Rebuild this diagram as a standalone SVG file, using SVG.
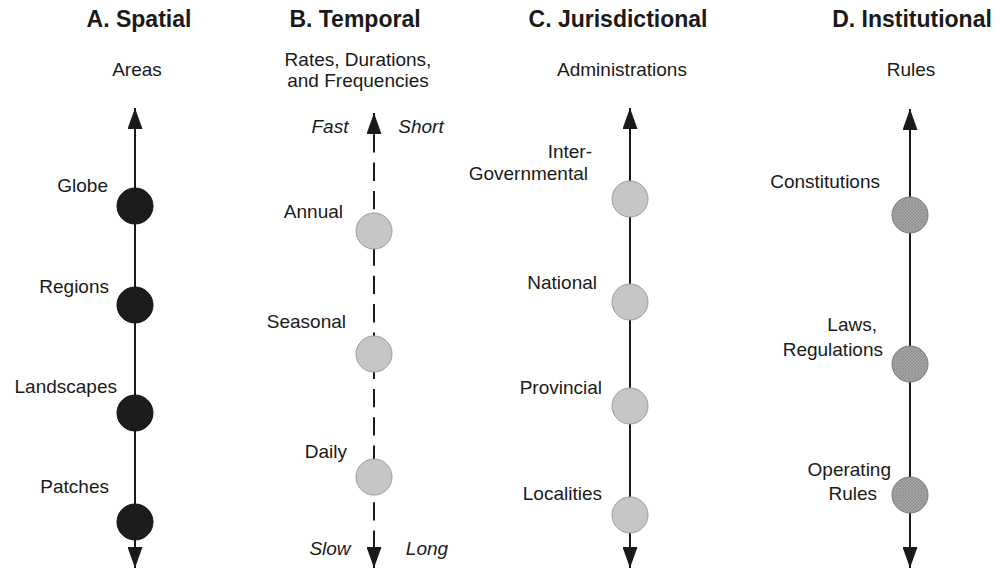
<svg xmlns="http://www.w3.org/2000/svg" width="1000" height="569" viewBox="0 0 1000 569">
<style>
text{font-family:"Liberation Sans",Arial,sans-serif;fill:#1a1a1a}
.title{font-size:23px;font-weight:bold;text-anchor:middle}
.sub{font-size:19px;text-anchor:middle}
.lbl{font-size:19px;text-anchor:end}
.it{font-size:19px;font-style:italic;text-anchor:middle}
.axis{stroke:#1a1a1a;stroke-width:2;fill:none}
.dash{stroke-dasharray:18.3 10;stroke-dashoffset:7}
.dark{fill:#1c1c1c;stroke:#111;stroke-width:1}
.light{fill:#c6c6c6;stroke:#9c9c9c;stroke-width:1}
.hatch{fill:url(#hp);stroke:#7a7a7a;stroke-width:1}
</style>
<defs>
<marker id="ah" viewBox="0 0 21 15" refX="21" refY="7.5" markerWidth="21" markerHeight="15" markerUnits="userSpaceOnUse" orient="auto">
<path d="M0,0 L21,7.5 L0,15 z" fill="#1a1a1a"/>
</marker>
<marker id="ahs" viewBox="0 0 21 15" refX="21" refY="7.5" markerWidth="21" markerHeight="15" markerUnits="userSpaceOnUse" orient="auto-start-reverse">
<path d="M0,0 L21,7.5 L0,15 z" fill="#1a1a1a"/>
</marker>
<pattern id="hp" width="3" height="3" patternUnits="userSpaceOnUse">
<rect width="3" height="3" fill="#a6a6a6"/>
<path d="M0,3 L3,0 M0,0 L3,3" stroke="#8c8c8c" stroke-width="0.7"/>
</pattern>
</defs>
<g id="headers">
<text class="title" x="139" y="27">A. Spatial</text>
<text class="sub" x="137" y="76">Areas</text>
<text class="title" x="355" y="27">B. Temporal</text>
<text class="sub" x="358" y="66">Rates, Durations,</text>
<text class="sub" x="358" y="87">and Frequencies</text>
<text class="title" x="618" y="27">C. Jurisdictional</text>
<text class="sub" x="622" y="76">Administrations</text>
<text class="title" x="912" y="27">D. Institutional</text>
<text class="sub" x="911" y="76">Rules</text>
</g>
<g id="connectors">
<line class="axis" x1="135" y1="108" x2="135" y2="568" marker-start="url(#ahs)" marker-end="url(#ahs)"/>
<line class="axis dash" x1="374" y1="113" x2="374" y2="568" marker-start="url(#ahs)" marker-end="url(#ahs)"/>
<line class="axis" x1="630" y1="108" x2="630" y2="568" marker-start="url(#ahs)" marker-end="url(#ahs)"/>
<line class="axis" x1="910" y1="109" x2="910" y2="568" marker-start="url(#ahs)" marker-end="url(#ahs)"/>
</g>
<g id="temporal-ends">
<text class="it" x="330" y="133">Fast</text>
<text class="it" x="421" y="133">Short</text>
<text class="it" x="330" y="555">Slow</text>
<text class="it" x="427" y="555">Long</text>
</g>
<g id="globe"><circle class="dark" cx="135" cy="206" r="18"/><text class="lbl" x="108" y="192">Globe</text></g>
<g id="regions"><circle class="dark" cx="135" cy="305" r="18"/><text class="lbl" x="109" y="293">Regions</text></g>
<g id="landscapes"><circle class="dark" cx="135" cy="413" r="18"/><text class="lbl" x="117" y="393">Landscapes</text></g>
<g id="patches"><circle class="dark" cx="135" cy="522" r="18"/><text class="lbl" x="109" y="493">Patches</text></g>
<g id="annual"><circle class="light" cx="374" cy="231" r="18"/><text class="lbl" x="343" y="218">Annual</text></g>
<g id="seasonal"><circle class="light" cx="374" cy="354" r="18"/><text class="lbl" x="346" y="328">Seasonal</text></g>
<g id="daily"><circle class="light" cx="374" cy="477" r="18"/><text class="lbl" x="347" y="458">Daily</text></g>
<g id="intergovernmental"><circle class="light" cx="630" cy="199" r="18"/><text class="lbl" x="592" y="158">Inter-</text><text class="lbl" x="588" y="180">Governmental</text></g>
<g id="national"><circle class="light" cx="630" cy="302" r="18"/><text class="lbl" x="597" y="289">National</text></g>
<g id="provincial"><circle class="light" cx="630" cy="406" r="18"/><text class="lbl" x="602" y="394">Provincial</text></g>
<g id="localities"><circle class="light" cx="630" cy="515" r="18"/><text class="lbl" x="602" y="500">Localities</text></g>
<g id="constitutions"><circle class="hatch" cx="910" cy="215" r="18"/><text class="lbl" x="880" y="188">Constitutions</text></g>
<g id="laws"><circle class="hatch" cx="910" cy="364" r="18"/><text class="lbl" x="877" y="331">Laws,</text><text class="lbl" x="883" y="356">Regulations</text></g>
<g id="operating"><circle class="hatch" cx="910" cy="495" r="18"/><text class="lbl" x="891" y="476">Operating</text><text class="lbl" x="877" y="500">Rules</text></g>
</svg>
